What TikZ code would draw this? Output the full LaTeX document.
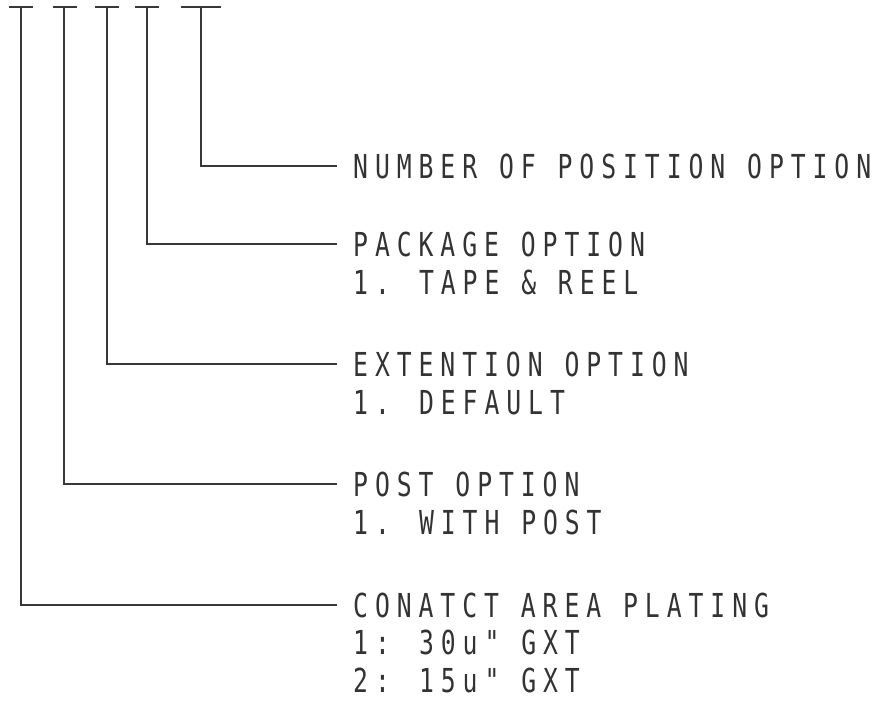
\documentclass[tikz,border=0pt]{standalone}
\usepackage{fontspec}
\newfontfamily\cadfont{DejaVu Sans Mono}[FakeStretch=0.75,LetterSpace=21]
\begin{document}
\begin{tikzpicture}[x=1pt,y=1pt,
  ln/.style={draw=black!78,line width=1.8pt},
  lbl/.style={anchor=west,inner sep=0pt,text height=24pt,text depth=0pt,
    font=\cadfont\fontsize{33}{38}\selectfont,text=black!80}]
\useasboundingbox (0,0) rectangle (884,-702);
% tee tops
\coordinate (t1) at (21,-7);
\coordinate (t2) at (64,-7);
\coordinate (t3) at (107,-7);
\coordinate (t4) at (147,-7);
\coordinate (t5) at (201,-7);
\draw[ln] (9,-7) -- (33,-7);
\draw[ln] (53,-7) -- (77,-7);
\draw[ln] (95,-7) -- (119,-7);
\draw[ln] (135,-7) -- (159,-7);
\draw[ln] (181,-7) -- (221,-7);
% labels
\node[lbl] (n5) at (353,-166) {NUMBER OF POSITION OPTION};
\node[lbl] (n4) at (353,-244) {PACKAGE OPTION};
\node[lbl] (n4b) at (353,-282) {1. TAPE \& REEL};
\node[lbl] (n3) at (353,-364) {EXTENTION OPTION};
\node[lbl] (n3b) at (353,-402) {1. DEFAULT};
\node[lbl] (n2) at (353,-484) {POST OPTION};
\node[lbl] (n2b) at (353,-522) {1. WITH POST};
\node[lbl] (n1) at (353,-605) {CONATCT AREA PLATING};
\node[lbl] (n1b) at (353,-642) {1: 30u" GXT};
\node[lbl] (n1c) at (353,-680) {2: 15u" GXT};
% connectors
\draw[ln] (t5) |- ([xshift=-16pt]n5.west);
\draw[ln] (t4) |- ([xshift=-16pt]n4.west);
\draw[ln] (t3) |- ([xshift=-16pt]n3.west);
\draw[ln] (t2) |- ([xshift=-16pt]n2.west);
\draw[ln] (t1) |- ([xshift=-16pt]n1.west);
\end{tikzpicture}
\end{document}
